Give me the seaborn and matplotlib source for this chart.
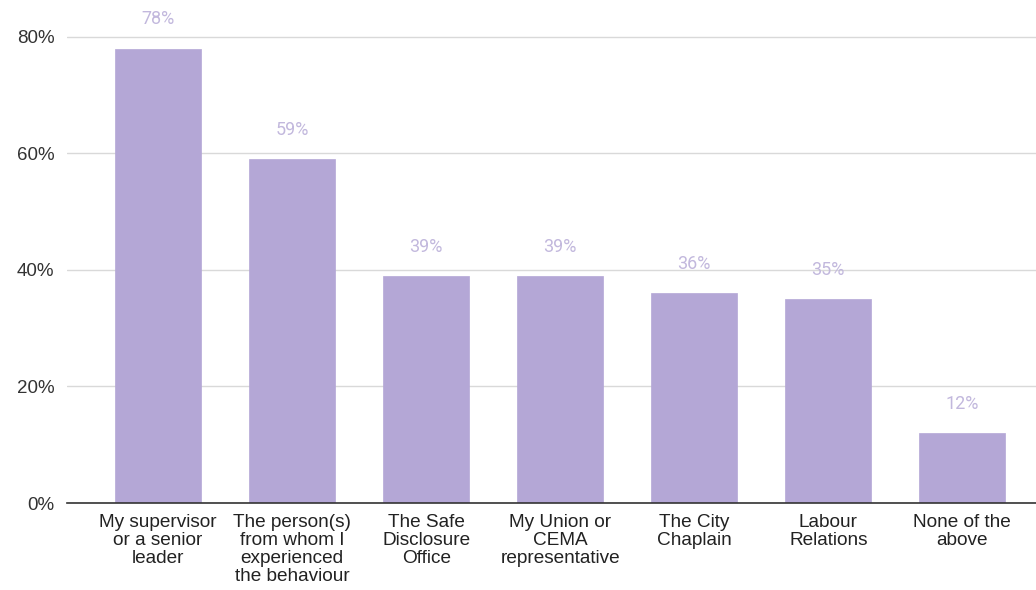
import matplotlib
matplotlib.use("Agg")
import matplotlib.pyplot as plt
import seaborn as sns
import pandas as pd

categories = [
    "My supervisor\nor a senior\nleader",
    "The person(s)\nfrom whom I\nexperienced\nthe behaviour",
    "The Safe\nDisclosure\nOffice",
    "My Union or\nCEMA\nrepresentative",
    "The City\nChaplain",
    "Labour\nRelations",
    "None of the\nabove",
]
shares = [0.78, 0.59, 0.39, 0.39, 0.36, 0.35, 0.12]
yticks = [0.0, 0.2, 0.4, 0.6, 0.8]
ytick_labels = ["0%", "20%", "40%", "60%", "80%"]

df = pd.DataFrame({"category": categories, "share": shares})

sns.set_theme(style="white")
plt.rcParams["font.family"] = ["Liberation Sans", "DejaVu Sans"]

fig = plt.figure(figsize=(10.36, 5.90), dpi=100)
ax = fig.add_axes([67 / 1036, 1 - 503 / 590, 1 - 67 / 1036, 503 / 590])

bar_color = "#b4a7d6"
sns.barplot(data=df, x="category", y="share", color=bar_color, width=0.64,
            saturation=1, ax=ax, zorder=3, edgecolor=bar_color, linewidth=0.5)

ax.set_ylim(0, 0.8635)
ax.set_xlim(-0.68, 6.55)
ax.set_yticks(yticks)
ax.set_yticklabels(ytick_labels, fontsize=13.5, color="#333333")
ax.tick_params(axis="x", labelsize=13.7, colors="#222222", pad=8, length=0)
ax.tick_params(axis="y", length=0, pad=9)
for lab in ax.get_xticklabels():
    lab.set_linespacing(1.07)
ax.set_xlabel("")
ax.set_ylabel("")

ax.grid(axis="y", color="#d9d9d9", linewidth=1, zorder=0)
for side in ["top", "right", "left"]:
    ax.spines[side].set_visible(False)
ax.spines["bottom"].set_color("#333333")
ax.spines["bottom"].set_linewidth(1.2)
ax.spines["bottom"].set_zorder(4)

for i, v in enumerate(shares):
    ax.annotate(f"{round(v * 100)}%", xy=(i, v), xytext=(0, 21),
                textcoords="offset points", ha="center", va="center",
                fontsize=13, color="#c2b8dd", family=["Roboto", "DejaVu Sans"],
                zorder=5)

fig.savefig("out.png", dpi=100)
